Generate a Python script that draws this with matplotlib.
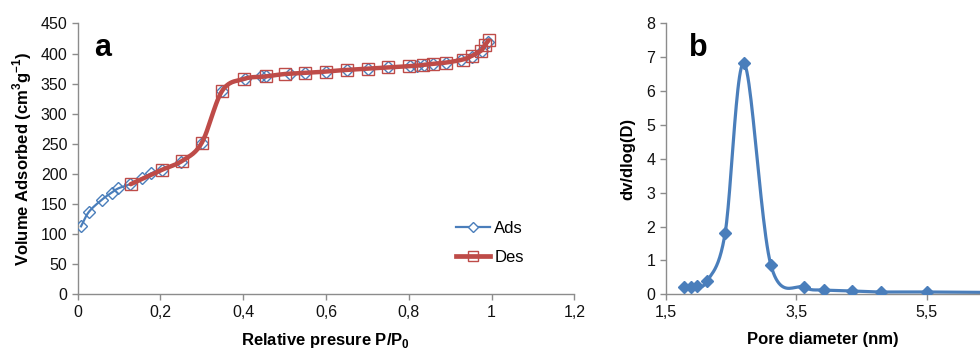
import numpy as np
import matplotlib
matplotlib.use("Agg")
import matplotlib.pyplot as plt
from matplotlib.lines import Line2D

plt.rcParams['font.family'] = ['Liberation Sans', 'DejaVu Sans']

# Nitrogen isotherm: adsorption branch
ads_p = [0.008, 0.027, 0.058, 0.082, 0.098, 0.126, 0.156, 0.177, 0.203, 0.250,
         0.300, 0.349, 0.405, 0.444, 0.455, 0.513, 0.549, 0.600, 0.651, 0.702,
         0.750, 0.803, 0.820, 0.836, 0.859, 0.890, 0.927, 0.952, 0.976, 0.992]
ads_v = [113, 137, 157, 169, 176, 183, 193, 201, 207, 220,
         252, 338, 357, 362, 362, 366, 368, 370, 373, 375,
         377, 379, 380, 381, 383, 385, 390, 395, 405, 420]

# Nitrogen isotherm: desorption branch
des_p = [0.993, 0.985, 0.975, 0.952, 0.930, 0.890, 0.859, 0.835, 0.800, 0.750,
         0.702, 0.651, 0.600, 0.550, 0.500, 0.454, 0.402, 0.349, 0.300, 0.253,
         0.204, 0.128]
des_v = [422, 415, 405, 396, 390, 385, 383, 381, 379, 377,
         375, 373, 370, 368, 366, 362, 358, 338, 252, 222,
         207, 183]

# Pore size distribution
pore_d = [1.785, 1.88, 1.975, 2.14, 2.41, 2.70, 3.11, 3.62, 3.93, 4.35, 4.80, 5.50, 6.90]
pore_dv = [0.21, 0.22, 0.25, 0.40, 1.80, 6.82, 0.88, 0.21, 0.13, 0.10, 0.07, 0.07, 0.05]

x_ticks_a = [0, 0.2, 0.4, 0.6, 0.8, 1.0, 1.2]
x_labels_a = ["0", "0,2", "0,4", "0,6", "0,8", "1", "1,2"]
y_ticks_a = list(range(0, 451, 50))
x_ticks_b = [1.5, 3.5, 5.5]
x_labels_b = ["1,5", "3,5", "5,5"]
y_ticks_b = list(range(0, 9))

BLUE = "#4a7ebb"
RED = "#be4b48"
SPINE = "#8c8c8c"
TICK_FS = 11.5
LABEL_FS = 12


def smooth(x, y, n=24):
    """Catmull-Rom spline through the given points (Excel-like smoothed line)."""
    x = np.asarray(x, float)
    y = np.asarray(y, float)
    px = np.concatenate([[2 * x[0] - x[1]], x, [2 * x[-1] - x[-2]]])
    py = np.concatenate([[2 * y[0] - y[1]], y, [2 * y[-1] - y[-2]]])
    xs, ys = [], []
    t = np.linspace(0, 1, n, endpoint=False)
    h00 = 2 * t**3 - 3 * t**2 + 1
    h10 = t**3 - 2 * t**2 + t
    h01 = -2 * t**3 + 3 * t**2
    h11 = t**3 - t**2
    for i in range(1, len(px) - 2):
        for arr, out in ((px, xs), (py, ys)):
            p0, p1, p2, p3 = arr[i - 1], arr[i], arr[i + 1], arr[i + 2]
            m1 = 0.5 * (p2 - p0)
            m2 = 0.5 * (p3 - p1)
            out.extend(h00 * p1 + h10 * m1 + h01 * p2 + h11 * m2)
    xs.append(x[-1])
    ys.append(y[-1])
    return np.array(xs), np.array(ys)


def style_axes(ax):
    for side in ("top", "right"):
        ax.spines[side].set_visible(False)
    for side in ("left", "bottom"):
        ax.spines[side].set_color(SPINE)
        ax.spines[side].set_linewidth(1.0)
    ax.tick_params(axis="both", direction="out", length=4, width=1.0,
                   color=SPINE, labelsize=TICK_FS, labelcolor="#111111", pad=3.5)


fig = plt.figure(figsize=(9.8, 3.5), dpi=100)

# Panel a: isotherm
ax1 = fig.add_axes([0.0793, 0.159, 0.5067, 0.774])
sx, sy = smooth(ads_p, ads_v)
ax1.plot(sx, sy, color=BLUE, lw=1.6, zorder=2)
ax1.plot(ads_p, ads_v, ls="none", marker="D", ms=6.5, mfc="none",
         mec=BLUE, mew=1.0, zorder=3)
sx, sy = smooth(des_p, des_v)
ax1.plot(sx, sy, color=RED, lw=3.2, zorder=4, solid_capstyle="round")
ax1.plot(des_p, des_v, ls="none", marker="s", ms=8, mfc="none",
         mec=RED, mew=1.0, zorder=5)
handles = [
    Line2D([], [], color=BLUE, lw=1.6, marker="D", ms=5.5, mfc="white",
           mec=BLUE, mew=1.0),
    Line2D([], [], color=RED, lw=3.4, marker="s", ms=7.5, mfc="none",
           mec=RED, mew=1.0),
]
ax1.legend(handles, ["Ads", "Des"], loc="center left",
           bbox_to_anchor=(0.762, 0.189), frameon=False, fontsize=LABEL_FS,
           handlelength=2.05, handletextpad=0.25, labelspacing=0.85,
           borderpad=0, borderaxespad=0)
ax1.set_xlim(0, 1.2)
ax1.set_ylim(0, 450)
ax1.set_xticks(x_ticks_a)
ax1.set_xticklabels(x_labels_a)
ax1.set_yticks(y_ticks_a)
style_axes(ax1)
ax1.set_xlabel("Relative presure P/P$_\\mathregular{0}$", fontsize=LABEL_FS,
               fontweight="bold", labelpad=8)
ax1.set_ylabel("Volume Adsorbed (cm$^\\mathregular{3}$g$^\\mathregular{-1}$)",
               fontsize=LABEL_FS, fontweight="bold", labelpad=5)
ax1.text(0.034, 0.965, "a", transform=ax1.transAxes, fontsize=22,
         fontweight="bold", va="top", ha="left")

# Panel b: pore size distribution
ax2 = fig.add_axes([0.6793, 0.159, 0.3207, 0.774])
sx, sy = smooth(pore_d, pore_dv)
ax2.plot(sx, sy, color=BLUE, lw=2.3, zorder=2)
ax2.plot(pore_d, pore_dv, ls="none", marker="D", ms=6.5, mfc=BLUE,
         mec=BLUE, zorder=3)
ax2.set_xlim(1.5, 6.317)
ax2.set_ylim(0, 8)
ax2.set_xticks(x_ticks_b)
ax2.set_xticklabels(x_labels_b)
ax2.set_yticks(y_ticks_b)
style_axes(ax2)
ax2.set_xlabel("Pore diameter (nm)", fontsize=LABEL_FS, fontweight="bold",
               labelpad=9)
ax2.set_ylabel("dv/dlog(D)", fontsize=LABEL_FS, fontweight="bold", labelpad=8)
ax2.text(0.075, 0.965, "b", transform=ax2.transAxes, fontsize=22,
         fontweight="bold", va="top", ha="left")

fig.savefig("out.png", dpi=100)
